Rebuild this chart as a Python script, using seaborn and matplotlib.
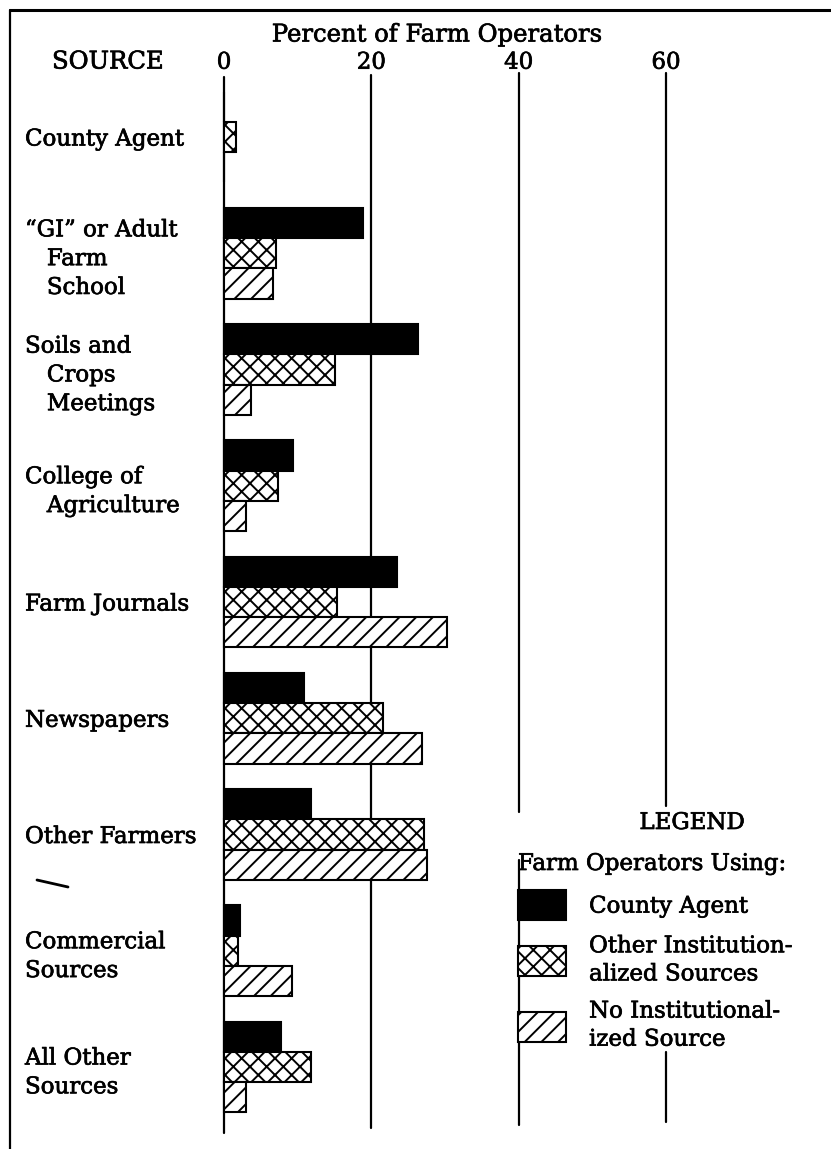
import matplotlib
matplotlib.use("Agg")
import matplotlib.pyplot as plt
import matplotlib.patheffects as pe
import seaborn as sns
import pandas as pd
from matplotlib.lines import Line2D
from matplotlib.font_manager import FontProperties

# ---- data ----
sources = ["County Agent",
           "\u201cGI\u201d or Adult\n   Farm\n   School",
           "Soils and\n   Crops\n   Meetings",
           "College of\n   Agriculture",
           "Farm Journals",
           "Newspapers",
           "Other Farmers",
           "Commercial\nSources",
           "All Other\nSources"]
groups = ["County Agent",
          "Other Institution-\nalized Sources",
          "No Institutional-\nized Source"]
county_agent = [0, 18.9, 26.4, 9.4, 23.5, 10.9, 11.8, 2.2, 7.7]
other_inst = [1.6, 7.1, 15.0, 7.3, 15.4, 21.6, 27.1, 1.9, 11.8]
no_inst = [0, 6.7, 3.7, 3.0, 30.3, 26.9, 27.6, 9.2, 3.0]
xticks = [0, 20, 40, 60]

df = pd.DataFrame({
    "source": sources * 3,
    "group": [g for g in groups for _ in sources],
    "value": county_agent + other_inst + no_inst,
})

W, H = 831, 1149
sns.set_theme(style="white")
plt.rcParams["font.family"] = ["DejaVu Serif"]
plt.rcParams["text.color"] = "black"
plt.rcParams["axes.labelcolor"] = "black"
plt.rcParams["xtick.color"] = "black"
plt.rcParams["ytick.color"] = "black"
plt.rcParams["hatch.linewidth"] = 1.4
plt.rcParams["hatch.color"] = "black"
FS = 16.5
font = FontProperties(family="DejaVu Serif", size=FS)
font_big = FontProperties(family="DejaVu Serif", size=17.5)
bold_fx = [pe.withStroke(linewidth=0.5, foreground="black")]

fig = plt.figure(figsize=(W / 100, H / 100), dpi=100)
fig.patch.set_facecolor("white")

def fx(p):
    return p / W

def fy(p):
    return 1 - p / H

# axes: x 0..60 -> px 224..666; y from px 73 to 1133
ax = fig.add_axes([fx(224), fy(1133), fx(666) - fx(224), fy(73) - fy(1133)])

sns.barplot(data=df, y="source", x="value", hue="group", order=sources,
            hue_order=groups, palette=["black", "white", "white"],
            saturation=1, width=0.78, edgecolor="black", linewidth=1.5,
            legend=False, orient="h", ax=ax)

for cont, h in zip(ax.containers, [None, "xx", "//"]):
    for bar in cont:
        bar.set_hatch(h)
        bar.set_clip_on(False)

def dy(p):
    return (p - 137) / 116.25

ax.set_xlim(0, 60)
ax.set_ylim(dy(1133), dy(73))

# vertical rule lines
segs = [(0, 77, 1133), (20, 75, 1128), (40, 73, 812), (40, 860, 1125),
        (60, 73, 806), (60, 1052, 1122)]
for x, y0, y1 in segs:
    ax.plot([x, x], [dy(y0), dy(y1)], color="black", lw=1.6,
            clip_on=False, zorder=0.5)

for s in ax.spines.values():
    s.set_visible(False)
ax.grid(False)
ax.set_xlabel("")
ax.set_ylabel("")
ax.xaxis.tick_top()
ax.set_xticks(xticks)
ax.set_xticklabels([str(t) for t in xticks], fontproperties=font)
ax.tick_params(axis="x", length=0, pad=-0.5, colors="black")
ax.set_yticks(range(len(sources)))
ax.set_yticklabels(sources, fontproperties=font, ha="left", linespacing=1.40)
ax.tick_params(axis="y", length=0, pad=(224 - 25) * 0.72, colors="black")
for t in ax.get_xticklabels() + ax.get_yticklabels():
    t.set_path_effects(bold_fx)

# legend
leg = ax.legend(ax.containers, groups, title="Farm Operators Using:",
                loc="upper left", bbox_to_anchor=(fx(518), fy(853)),
                bbox_transform=fig.transFigure, frameon=False,
                handlelength=2.1, handleheight=1.64, handletextpad=1.0,
                labelspacing=0.66, borderpad=0, borderaxespad=0,
                alignment="left", prop=font, title_fontproperties=font)
for t in leg.get_texts():
    t.set_linespacing(1.36)
    t.set_color("black")
    t.set_path_effects(bold_fx)
leg.get_title().set_color("black")
leg.get_title().set_path_effects(bold_fx)

fig.text(fx(437), fy(35), "Percent of Farm Operators", ha="center",
         va="center", fontproperties=font_big, path_effects=bold_fx)
fig.text(fx(52), fy(62), "SOURCE", ha="left", va="center",
         fontproperties=font_big, path_effects=bold_fx)
fig.text(fx(692), fy(823), "LEGEND", ha="center", va="center",
         fontproperties=font, path_effects=bold_fx)

# page border lines
fig.add_artist(Line2D([fx(10), fx(831)], [fy(10), fy(10)], color="black",
                      lw=2.2, transform=fig.transFigure))
fig.add_artist(Line2D([fx(10), fx(10)], [fy(10), fy(1149)], color="black",
                      lw=1.6, transform=fig.transFigure))
fig.add_artist(Line2D([fx(37), fx(68)], [fy(880), fy(887)], color="black",
                      lw=2, transform=fig.transFigure))

fig.savefig("out.png", dpi=100)
